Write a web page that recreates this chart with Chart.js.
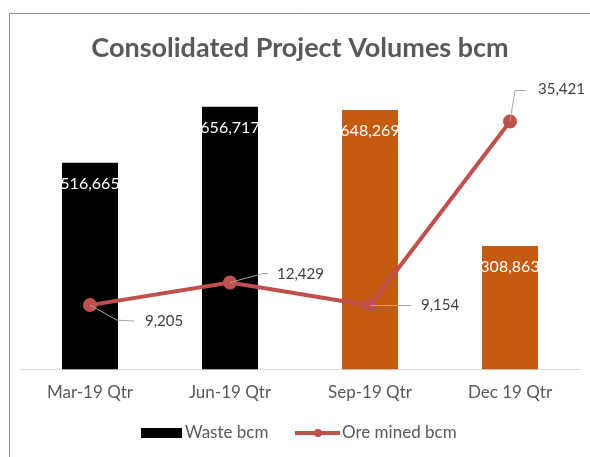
<!DOCTYPE html>
<html>
<head>
<meta charset="utf-8">
<script src="https://cdn.jsdelivr.net/npm/chart.js@4.4.1/dist/chart.umd.min.js"></script>
<style>
  html, body { margin: 0; padding: 0; background: #fff; }
  #wrap { width: 590px; height: 457px; position: relative; }
</style>
</head>
<body>
<div id="wrap"><canvas id="c" width="590" height="457"></canvas></div>
<script>
const categories = ['Mar-19 Qtr', 'Jun-19 Qtr', 'Sep-19 Qtr', 'Dec 19 Qtr'];
const wasteBcm = [516665, 656717, 648269, 308863];
const oreMinedBcm = [9205, 12429, 9154, 35421];
const seriesNames = ['Waste bcm', 'Ore mined bcm'];
const barColors = ['#000000', '#000000', '#C55A11', '#C55A11'];

const FONT = 'Lato, "Liberation Sans", sans-serif';
const fmt = v => v.toLocaleString('en-US');

// label offsets for line labels: leader points, text left x, text center y (relative to point)
const lineLabelLayout = [
  { leader: [[27, 15], [44, 16]], tx: 55, ty: 16 },
  { leader: [[33, -9], [38, -9]], tx: 47, ty: -8 },
  { leader: [[41, 0]], tx: 51, ty: 0 },
  { leader: [[5, -31], [16, -31]], tx: 28, ty: -32 }
];

const framePlugin = {
  id: 'frame',
  beforeDraw(chart) {
    const ctx = chart.ctx;
    ctx.save();
    ctx.fillStyle = '#ffffff';
    ctx.fillRect(0, 0, chart.width, chart.height);
    ctx.strokeStyle = '#8c8c8c';
    ctx.lineWidth = 1;
    ctx.beginPath();
    ctx.moveTo(9.5, chart.height);
    ctx.lineTo(9.5, 13.5);
    ctx.lineTo(chart.width, 13.5);
    ctx.stroke();
    ctx.restore();
  }
};

const labelsPlugin = {
  id: 'valueLabels',
  afterDatasetsDraw(chart) {
    const ctx = chart.ctx;
    ctx.save();
    ctx.textBaseline = 'middle';
    // bar labels
    ctx.font = '16px ' + FONT;
    const barMeta = chart.getDatasetMeta(1);
    barMeta.data.forEach((bar, i) => {
      const w = bar.width;
      ctx.save();
      ctx.beginPath();
      ctx.rect(bar.x - w / 2, bar.y, w, bar.base - bar.y);
      ctx.clip();
      ctx.fillStyle = '#ffffff';
      ctx.textAlign = 'center';
      ctx.fillText(fmt(wasteBcm[i]), bar.x, bar.y + 21);
      ctx.restore();
    });
    // line labels
    ctx.font = '15px ' + FONT;
    const lineMeta = chart.getDatasetMeta(0);
    lineMeta.data.forEach((pt, i) => {
      const L = lineLabelLayout[i];
      ctx.strokeStyle = '#a6a6a6';
      ctx.lineWidth = 1;
      ctx.beginPath();
      ctx.moveTo(pt.x, pt.y);
      L.leader.forEach(p => ctx.lineTo(pt.x + p[0], pt.y + p[1]));
      ctx.stroke();
      ctx.fillStyle = '#404040';
      ctx.textAlign = 'left';
      ctx.fillText(fmt(oreMinedBcm[i]), pt.x + L.tx, pt.y + L.ty);
    });
    ctx.restore();
  }
};

const legendPlugin = {
  id: 'customLegend',
  afterDraw(chart) {
    const ctx = chart.ctx;
    ctx.save();
    const y = 433;
    ctx.fillStyle = '#000000';
    ctx.fillRect(141, 428, 41, 10);
    ctx.font = '17px ' + FONT;
    ctx.textBaseline = 'middle';
    ctx.textAlign = 'left';
    ctx.fillStyle = '#595959';
    ctx.fillText(seriesNames[0], 185, y);
    ctx.strokeStyle = '#C0504D';
    ctx.lineWidth = 4;
    ctx.beginPath();
    ctx.moveTo(295, y);
    ctx.lineTo(340, y);
    ctx.stroke();
    ctx.fillStyle = '#C0504D';
    ctx.beginPath();
    ctx.arc(318, y, 4, 0, Math.PI * 2);
    ctx.fill();
    ctx.fillStyle = '#595959';
    ctx.fillText(seriesNames[1], 342, y);
    ctx.restore();
  }
};

new Chart(document.getElementById('c'), {
  data: {
    labels: categories,
    datasets: [
      {
        type: 'line',
        label: seriesNames[1],
        data: oreMinedBcm,
        yAxisID: 'y2',
        borderColor: '#C0504D',
        backgroundColor: '#C0504D',
        borderWidth: 4,
        pointRadius: 5,
        pointHoverRadius: 5,
        tension: 0,
        order: 0
      },
      {
        type: 'bar',
        label: seriesNames[0],
        data: wasteBcm,
        yAxisID: 'y',
        backgroundColor: barColors,
        borderWidth: 0,
        barPercentage: 0.4,
        categoryPercentage: 1.0,
        order: 1
      }
    ]
  },
  options: {
    responsive: false,
    animation: false,
    layout: { padding: { left: 20, right: 10, top: 0, bottom: 41 } },
    plugins: {
      legend: { display: false },
      tooltip: { enabled: false },
      title: {
        display: true,
        text: 'Consolidated Project Volumes bcm',
        color: '#595959',
        font: { family: FONT, size: 27, weight: 'bold' },
        padding: { top: 32, bottom: 25 }
      }
    },
    scales: {
      x: {
        grid: { display: false, drawTicks: false },
        border: { display: true, color: '#d9d9d9', width: 1 },
        ticks: { color: '#595959', font: { family: FONT, size: 17 }, padding: 13 }
      },
      y: { display: false, min: 0, max: 700000 },
      y2: { display: false, min: 0, max: 40000, position: 'right' }
    }
  },
  plugins: [framePlugin, labelsPlugin, legendPlugin]
});
</script>
</body>
</html>
